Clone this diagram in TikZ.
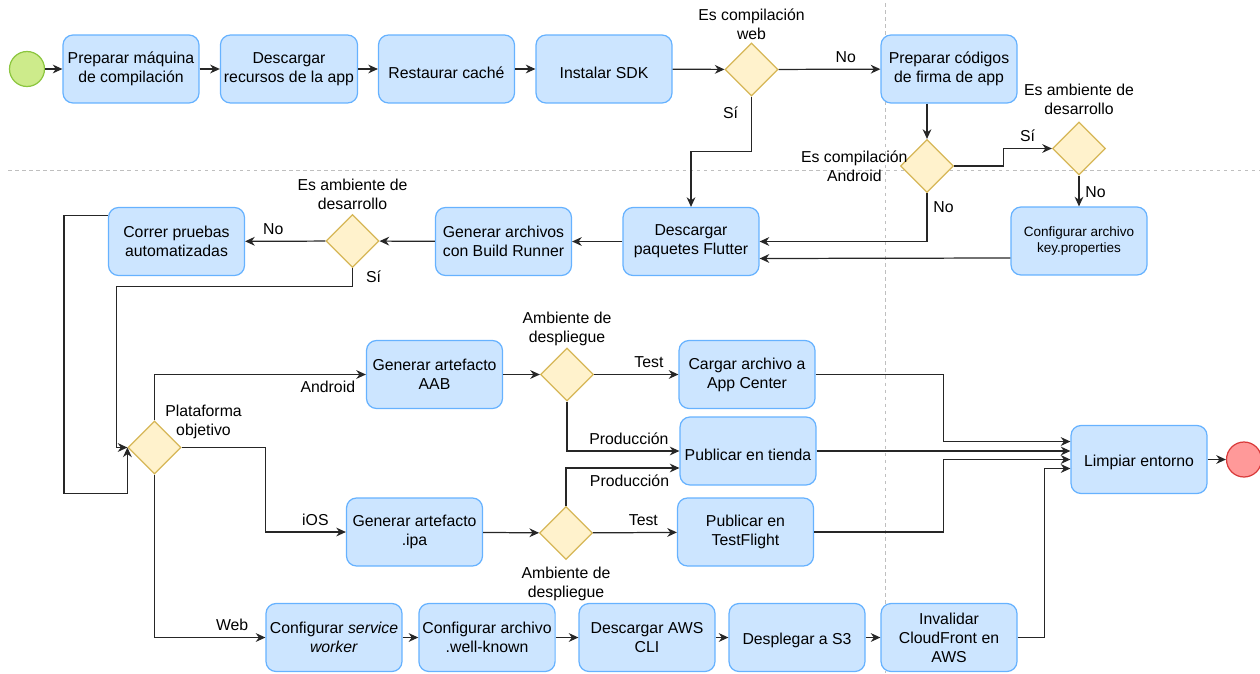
\documentclass[tikz,border=0pt]{standalone}
\usepackage{fontspec}
\setmainfont{Liberation Sans}
\usetikzlibrary{shapes.geometric,arrows.meta,calc}
\definecolor{procfill}{HTML}{CCE5FF}
\definecolor{procline}{HTML}{66B2FF}
\definecolor{decfill}{HTML}{FFF2CC}
\definecolor{decline}{HTML}{D6B656}
\definecolor{startfill}{HTML}{CDEB8B}
\definecolor{startline}{HTML}{8CC63F}
\definecolor{endfill}{HTML}{FF9999}
\definecolor{endline}{HTML}{D93B3B}
\begin{document}
\begin{tikzpicture}[x=0.02cm, y=-0.02cm, line width=0.7pt,
        font=\fontsize{9}{10.8}\selectfont,
        >={Stealth[length=5.5pt,width=5pt]},
        proc/.style={draw=procline, fill=procfill, rounded corners=0.2cm, align=center,
            minimum width=2.72cm, minimum height=1.36cm, inner sep=2pt,
            execute at begin node={\rule{0pt}{1.15em}}},
        decision/.style={diamond, draw=decline, fill=decfill, minimum width=1.06cm,
            minimum height=1.06cm, inner sep=0pt},
        startev/.style={circle, draw=startline, fill=startfill, minimum size=0.7cm, inner sep=0pt},
        endev/.style={circle, draw=endline, fill=endfill, minimum size=0.7cm, inner sep=0pt},
        flow/.style={->, draw=black!85},
        lane/.style={draw=black!25, line width=0.5pt, dash pattern=on 2pt off 2pt},
        every label/.append style={align=center}]
        \useasboundingbox (0,0) rectangle (1260,673);
        \draw[lane] (8,170) -- (1260,170);
        \draw[lane] (885.5,3) -- (885.5,673);

        \node[startev] (ST) at (27,69) {};
        \node[proc] (PM) at (131,69) {Preparar máquina\\de compilación};
        \node[proc] (DR) at (289,69) {Descargar\\recursos de la app};
        \node[proc] (RC) at (446.5,69) {Restaurar caché};
        \node[proc] (IS) at (604,69) {Instalar SDK};
        \node[decision, label={[yshift=-0.08cm]90:Es compilación\\web}] (EW) at (751.5,69.5) {};
        \node[proc] (PF) at (949,69) {Preparar códigos\\de firma de app};
        \node[decision, label={[label distance=-8pt]180:Es compilación\\Android}] (EA) at (927,166) {};
        \node[decision, label={90:Es ambiente de\\desarrollo}] (ED) at (1079,148.5) {};
        \node[proc, font=\fontsize{7.7}{9.6}\selectfont] (CK) at (1079,241) {Configurar archivo\\key.properties};

        \node[proc] (DP) at (691,241.5) {Descargar\\paquetes Flutter};
        \node[proc] (GB) at (503.5,241.5) {Generar archivos\\con Build Runner};
        \node[decision, label={[yshift=-0.04cm]90:Es ambiente de\\desarrollo}] (EDP) at (352.5,241) {};
        \node[proc] (CT) at (176.5,241.5) {Correr pruebas\\automatizadas};

        \node[decision, label={[xshift=0.98cm, yshift=-0.5cm]90:Plataforma\\objetivo}] (PO) at (154.5,447.5) {};
        \node[proc] (GA) at (434.5,374.5) {Generar artefacto\\AAB};
        \node[decision, label={[yshift=-0.1cm]90:Ambiente de\\despliegue}] (AD1) at (567,374.5) {};
        \node[proc] (CA) at (747,374.5) {Cargar archivo a\\App Center};
        \node[proc] (PT) at (748,451) {Publicar en tienda};
        \node[proc] (GI) at (414.5,532) {Generar artefacto\\.ipa};
        \node[decision, label={270:Ambiente de\\despliegue}] (AD2) at (566,533) {};
        \node[proc] (PTF) at (745.5,532) {Publicar en\\TestFlight};
        \node[proc] (SW) at (334,637.5) {Configurar \textit{service}\\\textit{worker}};
        \node[proc] (WK) at (487,637.5) {Configurar archivo\\.well-known};
        \node[proc] (AWS) at (647,637.5) {Descargar AWS\\CLI};
        \node[proc] (S3) at (797,637.5) {Desplegar a S3};
        \node[proc] (CF) at (949,637.5) {Invalidar\\CloudFront en\\AWS};
        \node[proc] (LE) at (1139,459.5) {Limpiar entorno};
        \node[endev] (EN) at (1244,459.5) {};

        \draw[flow] (ST) -- (PM);
        \draw[flow] (PM) -- (DR);
        \draw[flow] (DR) -- (RC);
        \draw[flow] (RC) -- (IS);
        \draw[flow] (IS) -- (EW);
        \draw[flow] (EW) -- node[above, pos=0.66] {No} (PF);
        \draw[flow] (EW.south) -- node[left=4pt, pos=0.3] {Sí} ++(0,55) -| (DP.north);
        \draw[flow] (PF.south -| EA) -- (EA.north);
        \draw[flow] (EA.south) |- node[right, pos=0.15] {No} (DP.east);
        \draw[flow] (EA.east) -- ++(49,0) |- node[above, pos=0.75] {Sí} (ED.west);
        \draw[flow] (ED) -- node[right, pos=0.53] {No} (CK);
        \draw[flow] ([yshift=-0.34cm]CK.west) -- ([yshift=-0.34cm]DP.east);

        \draw[flow] (DP) -- (GB);
        \draw[flow] (GB) -- (EDP);
        \draw[flow] (EDP) -- node[above, pos=0.65] {No} (CT);
        \draw[flow] (EDP.south) -- node[right=4pt] {Sí} ++(0,18) -| ($(PO.west)+(-11,0)$) -- (PO.west);
        \draw[flow] ([yshift=0.52cm]CT.west) -| ++(-44,278) -| (PO.west);

        \draw[flow] (PO.north) |- node[below, pos=0.91] {Android} (GA.west);
        \draw[flow] (PO.east) -- ++(84,0) |- node[above, pos=0.81] {iOS} (GI.west);
        \draw[flow] (PO.south) |- node[above, pos=0.85] {Web} (SW.west);

        \draw[flow] (GA) -- (AD1);
        \draw[flow] (AD1) -- node[above, pos=0.65] {Test} (CA);
        \draw[flow] (AD1.south) |- node[above, pos=0.775] {Producción} (PT.west);
        \draw[flow] (GI) -- (AD2);
        \draw[flow] (AD2.north) |- node[below, pos=0.78] {Producción} ([yshift=-0.34cm]PT.west);
        \draw[flow] (AD2) -- node[above, pos=0.6] {Test} (PTF);

        \draw[flow] (SW) -- (WK);
        \draw[flow] (WK) -- (AWS);
        \draw[flow] (AWS) -- (S3);
        \draw[flow] (S3) -- (CF);

        \draw[flow] (CA.east) -- ++(128,0) |- ([yshift=0.36cm]LE.west);
        \draw[flow] (PT.east) -- (PT.east -| LE.west);
        \draw[flow] (PTF.east) -- ++(129,0) |- (LE.west);
        \draw[flow] (CF.east) -- ++(27,0) |- ([yshift=-0.18cm]LE.west);
        \draw[flow] (LE) -- (EN);
    \end{tikzpicture}
\end{document}
